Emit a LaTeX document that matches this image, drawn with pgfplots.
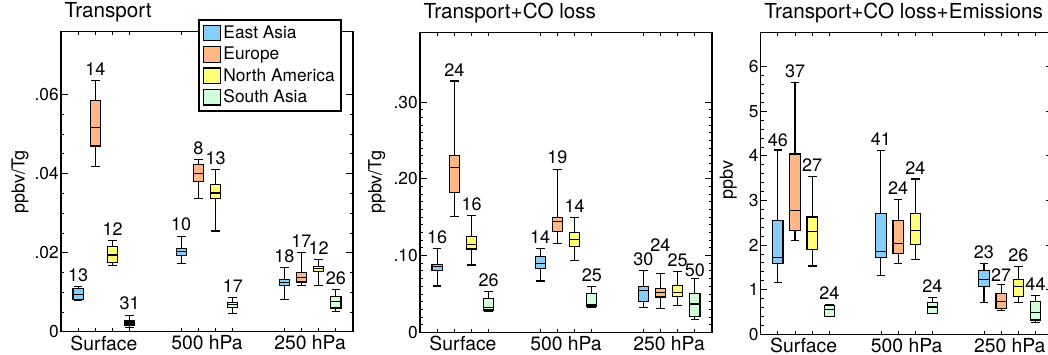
\documentclass[border=0pt]{standalone}
\usepackage{fontspec}
\setmainfont{TeX Gyre Heros}
\usepackage{pgfplots}
\pgfplotsset{compat=1.18}
\usepgfplotslibrary{statistics}
\definecolor{eaC}{RGB}{135,205,250}
\definecolor{euC}{RGB}{255,183,135}
\definecolor{naC}{RGB}{255,255,120}
\definecolor{saC}{RGB}{208,255,218}

% Panel 1 values are in units of 0.01 ppbv/Tg; panel 2 in units of 0.1 ppbv/Tg
\newcommand{\bx}[7]{\addplot[forget plot, draw=black, line width=0.85pt, fill=#7,
  boxplot/draw direction=y,
  boxplot prepared={draw position=#1, lower whisker=#2, lower quartile=#3, median=#4,
  upper quartile=#5, upper whisker=#6, box extend=0.6, whisker extend=0.5}] coordinates {};}

\pgfplotsset{
  panel/.style={
    scale only axis, width=219pt, height=225pt,
    xmin=0, xmax=17, ymin=0,
    tick pos=both, tick align=inside,
    xtick={1,2,3,4,7,8,9,10,13,14,15,16}, xticklabels={},
    xtick style={/pgfplots/major tick length=2.5pt},
    extra x ticks={2.5,8.5,14.5},
    extra x tick labels={Surface,500 hPa,250 hPa},
    extra x tick style={xtick style={/pgfplots/major tick length=0pt},
       xticklabel style={font=\fontsize{14.5}{16}\selectfont, yshift=0.5pt}},
    major tick length=5pt, minor tick length=2.5pt,
    axis line style={line width=0.85pt},
    every tick/.style={line width=0.6pt, black},
    yticklabel style={font=\fontsize{13}{15}\selectfont, inner xsep=1.5pt},
    ylabel style={font=\fontsize{13.5}{15}\selectfont, anchor=center},
    title style={at={(axis description cs:0,1)}, anchor=base west, xshift=2.5pt, yshift=4.3pt,
      inner sep=0pt, font=\fontsize{15.5}{17}\selectfont},
    clip=false,
  },
  lbl/.style={forget plot, draw=none, mark=none, nodes near coords, point meta=explicit symbolic,
    nodes near coords style={anchor=south, inner sep=0pt, yshift=3.5pt, font=\fontsize{13.5}{15}\selectfont}},
}

\begin{document}
\begin{tikzpicture}
% ---------------- Panel 1 (values x100) ----------------
\begin{axis}[panel, at={(45.75pt,16.7pt)}, anchor=south west,
  ymax=7.59, ytick={0,2,4,6}, yticklabels={0,.02,.04,.06}, minor y tick num=3,
  ylabel={ppbv/Tg}, ylabel style={at={(axis description cs:-0.14,0.5)}},
  title={Transport},
  legend style={at={(axis description cs:0.469,1.043)}, anchor=north west, draw=black,
    line width=1.5pt, fill=white, font=\fontsize{13}{15}\selectfont,
    cells={anchor=west}, row sep=1pt, inner xsep=3pt, inner ysep=2.5pt},
  legend image code/.code={\draw[#1, draw=black, line width=0.9pt] (0pt,-5.8pt) rectangle (12.5pt,5.8pt);},
]
\addlegendimage{fill=eaC}\addlegendentry{East Asia}
\addlegendimage{fill=euC}\addlegendentry{Europe}
\addlegendimage{fill=naC}\addlegendentry{North America}
\addlegendimage{fill=saC}\addlegendentry{South Asia}
\bx{1}{0.78}{0.82}{0.95}{1.10}{1.14}{eaC}
\bx{2}{4.19}{4.70}{5.16}{5.86}{6.36}{euC}
\bx{3}{1.68}{1.75}{1.94}{2.15}{2.30}{naC}
\bx{4}{0.11}{0.17}{0.22}{0.27}{0.42}{saC}
\bx{7}{1.72}{1.93}{2.03}{2.11}{2.42}{eaC}
\bx{8}{3.36}{3.79}{4.00}{4.24}{4.36}{euC}
\bx{9}{2.55}{3.36}{3.51}{3.72}{4.10}{naC}
\bx{10}{0.47}{0.62}{0.69}{0.74}{0.86}{saC}
\bx{13}{0.82}{1.16}{1.25}{1.33}{1.62}{eaC}
\bx{14}{1.16}{1.26}{1.37}{1.50}{2.01}{euC}
\bx{15}{1.16}{1.53}{1.60}{1.66}{1.83}{naC}
\bx{16}{0.52}{0.60}{0.77}{0.89}{1.07}{saC}
\addplot[lbl] table[x=x, y=y, meta=n] {
x y n
1 1.14 13
2 6.36 14
3 2.30 12
4 0.42 31
7 2.42 10
8 4.36 8
9 4.10 13
10 0.86 17
13 1.62 18
14 2.01 17
15 1.83 12
16 1.07 26
};
\end{axis}
% ---------------- Panel 2 (values x10) ----------------
\begin{axis}[panel, at={(315pt,16.3pt)}, anchor=south west,
  ymax=3.91, ytick={0,1,2,3}, yticklabels={0,.10,.20,.30}, minor y tick num=9,
  ylabel={ppbv/Tg}, ylabel style={at={(axis description cs:-0.148,0.5)}},
  title={Transport+CO loss},
]
\bx{1}{0.603}{0.803}{0.855}{0.885}{1.093}{eaC}
\bx{2}{1.514}{1.818}{2.152}{2.304}{3.275}{euC}
\bx{3}{0.876}{1.085}{1.145}{1.249}{1.518}{naC}
\bx{4}{0.269}{0.291}{0.325}{0.438}{0.529}{saC}
\bx{7}{0.668}{0.829}{0.898}{0.985}{1.089}{eaC}
\bx{8}{1.154}{1.319}{1.440}{1.497}{2.126}{euC}
\bx{9}{0.937}{1.119}{1.210}{1.302}{1.497}{naC}
\bx{10}{0.321}{0.343}{0.364}{0.508}{0.594}{saC}
\bx{13}{0.321}{0.399}{0.542}{0.594}{0.803}{eaC}
\bx{14}{0.312}{0.460}{0.516}{0.568}{0.768}{euC}
\bx{15}{0.347}{0.464}{0.516}{0.607}{0.794}{naC}
\bx{16}{0.169}{0.204}{0.369}{0.508}{0.703}{saC}
\addplot[lbl] table[x=x, y=y, meta=n] {
x y n
1 1.093 16
2 3.275 24
3 1.518 16
4 0.529 26
7 1.089 14
8 2.126 19
9 1.497 14
10 0.594 25
13 0.803 30
14 0.990 24
15 0.794 25
16 0.665 50
};
\end{axis}
% ---------------- Panel 3 ----------------
\begin{axis}[panel, at={(570.5pt,14.8pt)}, anchor=south west, height=226.5pt,
  ymax=6.77, ytick={0,1,2,3,4,5,6}, yticklabels={0,1,2,3,4,5,6}, minor y tick num=4,
  ylabel={ppbv}, ylabel style={at={(axis description cs:-0.111,0.51)}},
  title={Transport+CO loss+Emissions},
]
\bx{1}{1.16}{1.59}{1.73}{2.56}{4.13}{eaC}
\bx{2}{2.10}{2.32}{2.77}{4.04}{5.64}{euC}
\bx{3}{1.53}{1.91}{2.30}{2.63}{3.54}{naC}
\bx{4}{0.40}{0.40}{0.55}{0.65}{0.67}{saC}
\bx{7}{1.32}{1.73}{1.85}{2.71}{4.12}{eaC}
\bx{8}{1.59}{1.82}{2.03}{2.56}{3.03}{euC}
\bx{9}{1.67}{2.01}{2.33}{2.71}{3.48}{naC}
\bx{10}{0.46}{0.46}{0.61}{0.71}{0.82}{saC}
\bx{13}{0.71}{1.08}{1.23}{1.43}{1.58}{eaC}
\bx{14}{0.53}{0.58}{0.73}{0.91}{1.12}{euC}
\bx{15}{0.71}{0.84}{1.08}{1.23}{1.52}{naC}
\bx{16}{0.26}{0.32}{0.49}{0.73}{0.86}{saC}
\addplot[lbl] table[x=x, y=y, meta=n] {
x y n
1 4.10 46
2 5.64 37
3 3.54 27
4 0.67 24
7 4.12 41
8 3.03 24
9 3.48 24
10 0.82 24
13 1.58 23
14 1.08 27
15 1.52 26
16 0.86 44
};
\end{axis}
\pgfresetboundingbox
\path[use as bounding box] (0,0) rectangle (786pt,265.5pt);
\end{tikzpicture}
\end{document}
